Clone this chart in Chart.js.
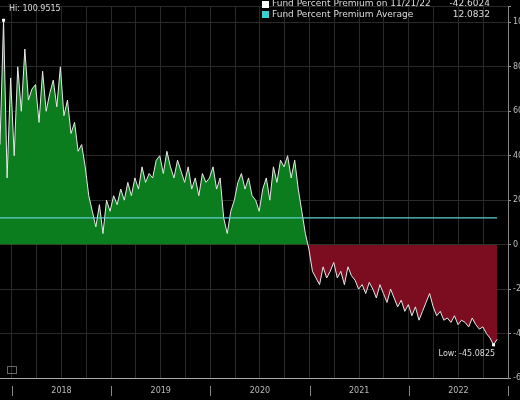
<!DOCTYPE html>
<html>
<head>
<script src="https://cdn.jsdelivr.net/npm/chart.js@4"></script>
<style>
  html, body { margin: 0; background: #000; }
  #wrap { width: 520px; height: 400px; }
</style>
</head>
<body>
<div id="wrap"><canvas id="c"></canvas></div>
<script>
// fund premium %, roughly every two weeks from late 2017 to 11/21/22
const premium = [
  45, 100.95, 30,
  75, 40, 80, 60, 88, 65, 70,
  72, 55, 78, 60, 68, 74, 62,
  80, 58, 65, 50, 55, 42, 45,
  35, 22, 15, 8, 18, 5, 20,
  15, 22, 18, 25, 20, 28, 22,
  30, 25, 35, 28, 32, 30, 38,
  40, 32, 42, 35, 30, 38, 33,
  28, 35, 25, 30, 22, 32, 28,
  30, 35, 25, 30, 12, 5, 15,
  20, 28, 32, 25, 30, 22, 20,
  15, 25, 30, 20, 35, 28, 38,
  35, 40, 30, 38, 25, 15, 5,
  -2, -12, -15, -18, -10, -15, -12,
  -8, -15, -12, -18, -10, -14, -16,
  -20, -18, -22, -17, -20, -24, -18,
  -22, -26, -20, -24, -28, -25, -30,
  -27, -32, -28, -34, -30, -26, -22,
  -28, -32, -30, -34, -33, -35, -32,
  -36, -34, -35, -37, -33, -36, -38,
  -37, -40, -42, -45.08, -42.60
]
const startYear = 2017.88, endYear = 2022.89
const average = 12.0832
const years = [2018, 2019, 2020, 2021, 2022]

const step = (endYear - startYear) / (premium.length - 1)
const points = premium.map((v, i) => ({x: startYear + i * step, y: v}))

const overlay = {
  id: 'overlay',
  afterDraw(chart) {
    const {ctx, scales: {x, y}} = chart
    ctx.save()
    ctx.font = '9px "DejaVu Sans"'
    ctx.textBaseline = 'middle'
    // legend
    ctx.fillStyle = '#fff'; ctx.fillRect(262, 1, 7, 7)
    ctx.fillStyle = '#38d0d0'; ctx.fillRect(262, 11, 7, 7)
    ctx.fillStyle = '#ddd'
    ctx.fillText('Fund Percent Premium on 11/21/22', 272, 4)
    ctx.fillText('Fund Percent Premium Average', 272, 15)
    ctx.textAlign = 'right'
    ctx.fillText('-42.6024', 490, 4)
    ctx.fillText('12.0832', 490, 15)
    // hi / low
    ctx.font = '8px "DejaVu Sans"'
    ctx.textAlign = 'left'
    ctx.fillText('Hi: 100.9515', 9, 9)
    ctx.textAlign = 'right'
    ctx.fillText('Low: -45.0825', x.getPixelForValue(endYear) - 2, y.getPixelForValue(-49))
    ctx.fillStyle = '#fff'
    ctx.fillRect(x.getPixelForValue(startYear + step) - 1.5, y.getPixelForValue(100.95) - 1.5, 3, 3)
    ctx.fillRect(x.getPixelForValue(endYear - step) - 1.5, y.getPixelForValue(-45.08) - 1.5, 3, 3)
    // year separators + labels
    ctx.strokeStyle = '#888'; ctx.lineWidth = 1
    ctx.textAlign = 'center'; ctx.fillStyle = '#bbb'
    const b = chart.chartArea.bottom
    years.concat([2023]).forEach(yr => {
      const px = Math.round(x.getPixelForValue(yr)) + 0.5
      ctx.beginPath(); ctx.moveTo(px, b + 8); ctx.lineTo(px, b + 18); ctx.stroke()
    })
    years.forEach(yr => ctx.fillText(String(yr), x.getPixelForValue(yr + 0.5), b + 13))
    ctx.strokeStyle = '#aaa'
    ctx.beginPath(); ctx.moveTo(chart.chartArea.left, b + 0.5); ctx.lineTo(chart.chartArea.right, b + 0.5); ctx.stroke()
    ctx.strokeStyle = '#666'; ctx.strokeRect(7.5, b - 11.5, 9, 7)
    ctx.restore()
  }
}

new Chart(document.getElementById('c'), {
  type: 'line',
  data: {
    datasets: [{
      data: points,
      borderColor: '#e8e8e8',
      borderWidth: 1,
      pointRadius: 0,
      tension: 0,
      order: 2,
      fill: {target: 'origin', above: '#0b7d1e', below: '#7c0d20'}
    }, {
      data: [{x: startYear, y: average}, {x: endYear, y: average}],
      borderColor: '#5fcfcf',
      borderWidth: 1.2,
      pointRadius: 0,
      order: 1,
      fill: false
    }]
  },
  plugins: [overlay],
  options: {
    responsive: true,
    maintainAspectRatio: false,
    animation: false,
    layout: {padding: {bottom: 22}},
    plugins: {legend: {display: false}, tooltip: {enabled: false}},
    scales: {
      x: {
        type: 'linear', min: startYear, max: 2023,
        afterBuildTicks(axis) {
          const t = []
          for (let q = 2018; q <= 2023; q += 0.25) t.push({value: q})
          axis.ticks = t
        },
        ticks: {display: false},
        grid: {color: '#2a2a2a', drawTicks: false},
        border: {display: false}
      },
      y: {
        position: 'right', min: -60, max: 107,
        afterFit(axis) { axis.width = 12 },
        ticks: {
          stepSize: 20, color: '#bbb', padding: 2,
          font: {size: 8, family: 'DejaVu Sans'},
          callback: v => v % 20 === 0 ? v : ''
        },
        grid: {color: '#2a2a2a', tickColor: '#999', tickLength: 3},
        border: {color: '#888'}
      }
    }
  }
})
</script>
</body>
</html>
